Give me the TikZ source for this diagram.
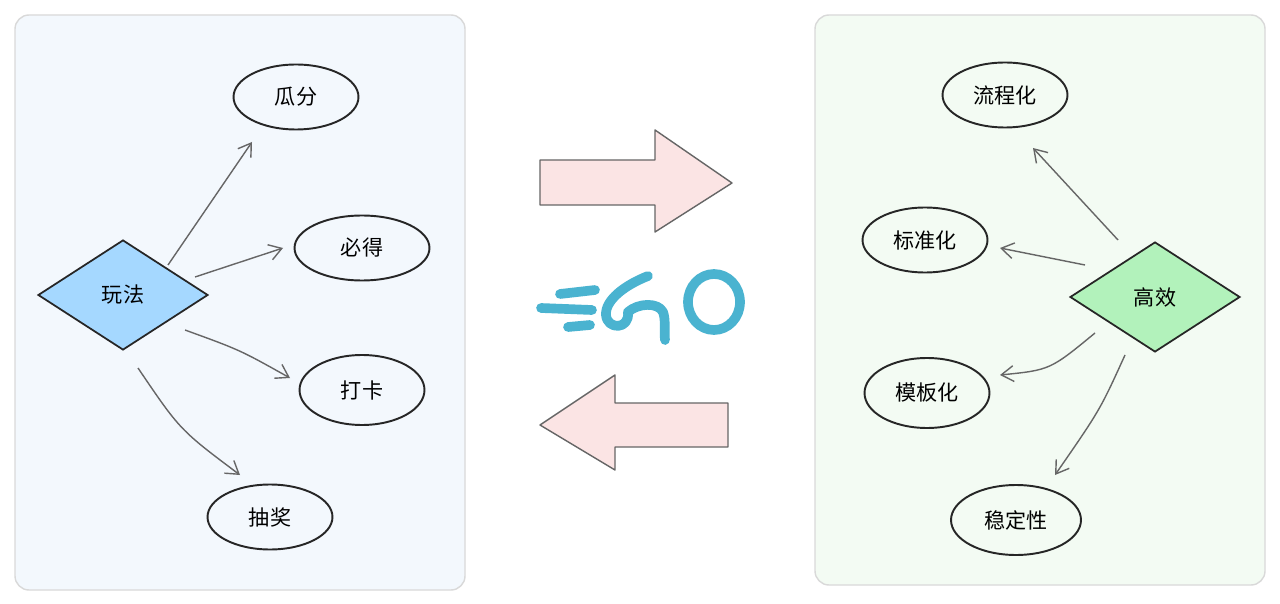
\documentclass[tikz,border=0pt]{standalone}
\usepackage{fontspec}
\newfontfamily\cjk{Noto Sans CJK SC}
\usetikzlibrary{shapes.geometric,arrows.meta,patterns}
\definecolor{lb}{HTML}{F3F8FD}
\definecolor{lg}{HTML}{F3FBF3}
\definecolor{dblue}{HTML}{A5D8FF}
\definecolor{dgreen}{HTML}{B2F2BB}
\definecolor{gob}{HTML}{4AB3D0}
\definecolor{pk}{HTML}{FBE4E4}
\tikzset{
 panel/.style={draw=black!15,line width=0.8pt,rounded corners=8pt},
 ell/.style={ellipse,draw=black!85,line width=1.1pt,minimum width=2.5cm,minimum height=1.3cm,font=\cjk\fontsize{12}{14}\selectfont},
 dia/.style={diamond,draw=black!85,line width=1pt,aspect=1.55,minimum width=3.4cm,minimum height=2.2cm,inner sep=0pt,font=\cjk\fontsize{12}{14}\selectfont},
 con/.style={draw=black!60,line width=0.8pt,-{Straight Barb[length=7pt,width=9pt]}},
 big/.style={draw=black!60,line width=0.8pt,fill=pk,line join=round},
 logo/.style={draw=gob,line width=5.5pt,line cap=round,line join=round}
}
\begin{document}
\begin{tikzpicture}[x=0.02cm,y=-0.02cm]
\useasboundingbox (0,0) rectangle (1280,604);
\fill[white] (0,0) rectangle (1280,604);
\draw[panel,fill=lb] (15,15) rectangle (465,590);
\draw[panel,fill=lg] (815,15) rectangle (1265,585);
% left
\node[dia,fill=dblue] (wf) at (123,295) {玩法};
\node[ell] (gf) at (296,97) {瓜分};
\node[ell,minimum width=2.7cm] (bd) at (362,248) {必得};
\node[ell,minimum height=1.4cm] (dk) at (362,390) {打卡};
\node[ell] (cj) at (270,517) {抽奖};
\coordinate (a1) at (168,265); \coordinate (b1) at (252,142);
\coordinate (a2) at (195,277); \coordinate (b2) at (283,248);
\coordinate (a3) at (185,330); \coordinate (b3) at (290,378);
\coordinate (a4) at (138,368); \coordinate (b4) at (240,475);
\draw[con] (a1) -- (b1);
\draw[con] (a2) -- (b2);
\draw[con] (a3) .. controls (240,350) .. (b3);
\draw[con] (a4) .. controls (180,430) .. (b4);
% right
\node[dia,fill=dgreen] (gx) at (1155,297) {高效};
\node[ell] (lc) at (1005,95) {流程化};
\node[ell] (bz) at (925,240) {标准化};
\node[ell,minimum height=1.4cm] (mb) at (927,393) {模板化};
\node[ell,minimum width=2.6cm,minimum height=1.4cm] (wd) at (1016,520) {稳定性};
\coordinate (c1) at (1118,240); \coordinate (d1) at (1033,148);
\coordinate (c2) at (1085,265); \coordinate (d2) at (1000,248);
\coordinate (c3) at (1095,333); \coordinate (d3) at (1000,375);
\coordinate (c4) at (1125,355); \coordinate (d4) at (1055,475);
\draw[con] (c1) -- (d1);
\draw[con] (c2) -- (d2);
\draw[con] (c3) .. controls (1050,370) .. (d3);
\draw[con] (c4) .. controls (1100,410) .. (d4);
% big arrows
\draw[big] (540,160) -- (655,160) -- (655,130) -- (732,183) -- (655,232) -- (655,205) -- (540,205) -- cycle;
\draw[big] (728,403) -- (615,403) -- (615,375) -- (540,425) -- (615,470) -- (615,447) -- (728,447) -- cycle;
% GO logo
\draw[logo] (560,294) -- (595,290);
\draw[logo] (541,308) -- (592,310);
\draw[logo] (568,327) -- (590,325);
\draw[logo] (648,276) .. controls (625,285) and (605,300) .. (606,315) .. controls (607,330) and (630,330) .. (628,312) .. controls (638,303) and (658,302) .. (663,312) .. controls (666,320) and (664,332) .. (665,340);
\draw[logo] (714,302) ellipse (26 and 28);
\end{tikzpicture}
\end{document}
